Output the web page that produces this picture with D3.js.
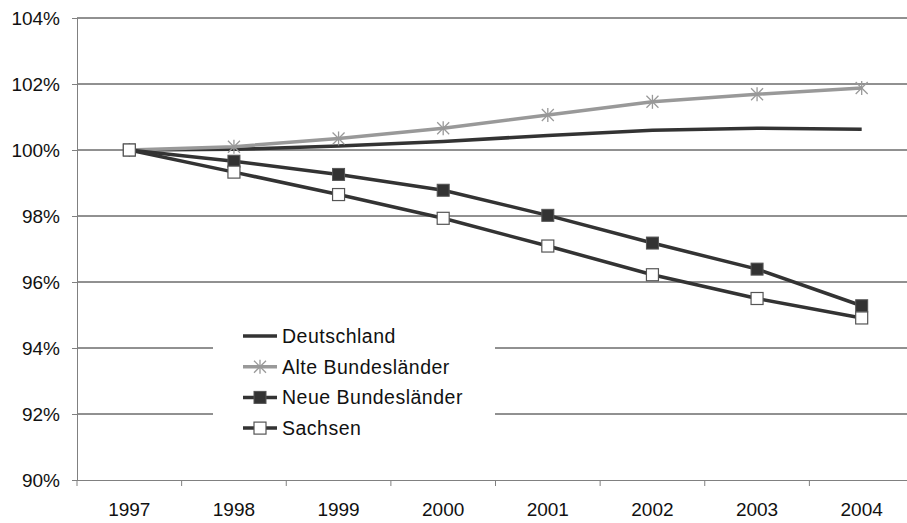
<!DOCTYPE html>
<html><head><meta charset="utf-8">
<script src="https://cdn.jsdelivr.net/npm/d3@7"></script>
<style>body{margin:0;background:#fff;overflow:hidden}svg{display:block}text{font-family:"Liberation Sans",Arial,sans-serif}</style>
</head><body><svg id="c" width="907" height="523"></svg>
<script>
const years = ["1997","1998","1999","2000","2001","2002","2003","2004"];
const deutschland = [100, 100.02, 100.12, 100.26, 100.44, 100.6, 100.66, 100.63];
const alteBL = [100, 100.1, 100.35, 100.66, 101.06, 101.46, 101.69, 101.88];
const neueBL = [100, 99.66, 99.26, 98.78, 98.02, 97.18, 96.39, 95.28];
const sachsen = [100, 99.33, 98.65, 97.93, 97.09, 96.22, 95.5, 94.91];
const yTicks = [90, 92, 94, 96, 98, 100, 102, 104];

const series = [
  {name:"Deutschland", values:deutschland, color:"#333", marker:"none"},
  {name:"Alte Bundesländer", values:alteBL, color:"#999", marker:"star"},
  {name:"Neue Bundesländer", values:neueBL, color:"#333", marker:"filled"},
  {name:"Sachsen", values:sachsen, color:"#333", marker:"open"}
];

const svg = d3.select("#c");
const L = 77, R = 914, T = 18, B = 480;
const FONT = "Liberation Sans, Arial, sans-serif";
const x = d3.scaleBand().domain(years).range([L, R]);
const y = d3.scaleLinear().domain([90, 104]).range([B, T]);

// gridlines
svg.append("g").selectAll("line").data(yTicks.filter(d => d > 90)).join("line")
  .attr("x1", L).attr("x2", R).attr("y1", d => y(d)).attr("y2", d => y(d))
  .attr("stroke", "#222").attr("stroke-width", 1);

// y axis
const ya = svg.append("g").attr("transform", `translate(${L},0)`)
  .call(d3.axisLeft(y).tickValues(yTicks).tickSize(5).tickPadding(12).tickFormat(d => d + "%"));
ya.select(".domain").attr("stroke", "#808080");
ya.selectAll(".tick line").attr("stroke", "#808080");
ya.selectAll("text").attr("font-size", 19).attr("fill", "#111").attr("font-family", FONT);

// x axis
const xa = svg.append("g").attr("transform", `translate(0,${B})`)
  .call(d3.axisBottom(x).tickSizeOuter(0).tickSize(0).tickPadding(23));
xa.select(".domain").attr("stroke", "#808080").attr("d", `M${L},0.5H${R}`);
xa.selectAll("text").attr("font-size", 19).attr("fill", "#111").attr("font-family", FONT);
svg.append("g").selectAll("line").data(d3.range(years.length + 1)).join("line")
  .attr("x1", i => L + i * x.step()).attr("x2", i => L + i * x.step())
  .attr("y1", B).attr("y2", B + 6).attr("stroke", "#808080");

const cx = d => x(d) + x.bandwidth() / 2;
const line = d3.line().x((v, i) => cx(years[i])).y(v => y(v));

function drawMarker(g, type, px, py) {
  if (type === "star") {
    const s = 6;
    const p = g.append("g").attr("stroke", "#999").attr("stroke-width", 1.3);
    p.append("line").attr("x1", px - s).attr("x2", px + s).attr("y1", py - s).attr("y2", py + s);
    p.append("line").attr("x1", px - s).attr("x2", px + s).attr("y1", py + s).attr("y2", py - s);
    p.append("line").attr("x1", px).attr("x2", px).attr("y1", py - s - 1).attr("y2", py + s + 1);
  } else if (type === "filled") {
    g.append("rect").attr("x", px - 6).attr("y", py - 6).attr("width", 12).attr("height", 12)
      .attr("fill", "#333").attr("stroke", "#555").attr("stroke-width", 1);
  } else if (type === "open") {
    g.append("rect").attr("x", px - 6).attr("y", py - 6).attr("width", 12).attr("height", 12)
      .attr("fill", "#fff").attr("stroke", "#555").attr("stroke-width", 1.2);
  }
}

// lines
series.forEach(s => {
  svg.append("path").datum(s.values).attr("d", line).attr("fill", "none")
    .attr("stroke", s.color).attr("stroke-width", 3.5).attr("stroke-linejoin", "round");
});
series.forEach(s => {
  const g = svg.append("g");
  s.values.forEach((v, i) => drawMarker(g, s.marker, cx(years[i]), y(v)));
});

// legend
const lg = svg.append("g");
lg.append("rect").attr("x", 213).attr("y", 320).attr("width", 282).attr("height", 126).attr("fill", "#fff");
series.forEach((s, i) => {
  const ly = 336 + i * 30.7;
  lg.append("line").attr("x1", 243).attr("x2", 277).attr("y1", ly).attr("y2", ly)
    .attr("stroke", s.color).attr("stroke-width", 3.5);
  drawMarker(lg, s.marker, 260, ly);
  lg.append("text").attr("x", 282).attr("y", ly + 7).attr("font-size", 19.5)
    .attr("letter-spacing", 0.5)
    .attr("fill", "#111").attr("font-family", FONT).text(s.name);
});
</script></body></html>
